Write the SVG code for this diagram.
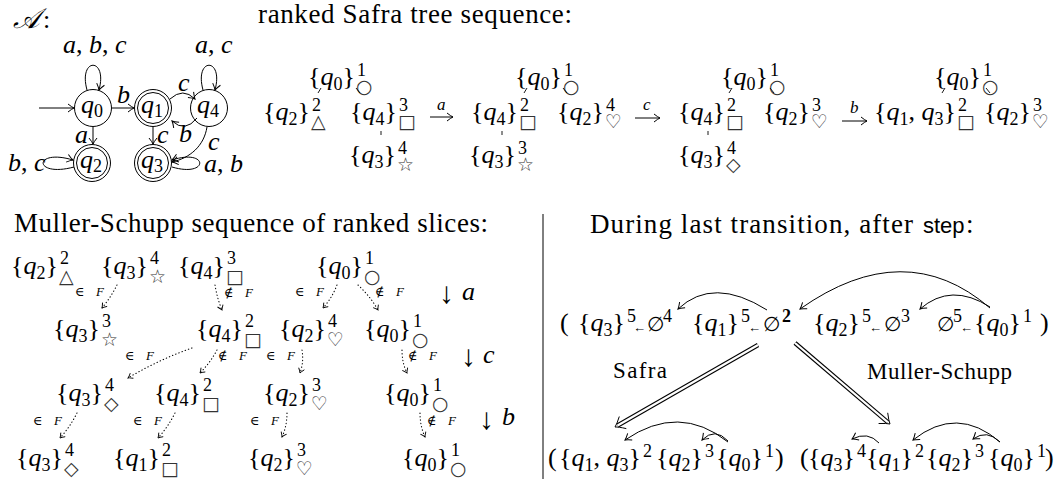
<svg xmlns="http://www.w3.org/2000/svg" width="1057" height="479" viewBox="0 0 1057 479">
<defs>
<style>
text{fill:#000}
.m{font-family:Liberation Serif,DejaVu Serif,serif;font-size:26px}
.e{text-anchor:end}
.i{font-style:italic}
.sb{font-size:18px}
.sp{font-family:Liberation Serif,DejaVu Serif,serif;font-size:18px}
.sy{font-family:DejaVu Sans,sans-serif;font-size:19px;fill:#333}
.lb{font-family:Liberation Serif,DejaVu Serif,serif;font-size:13px}
.sm{font-family:Liberation Serif,DejaVu Serif,serif;font-size:17px;font-style:italic}
.tt{font-family:Liberation Serif,DejaVu Serif,serif;font-size:27px}
.sf{font-family:Liberation Sans,DejaVu Sans,sans-serif;font-size:22px}
.la{font-family:Liberation Serif,DejaVu Serif,serif;font-size:20px}
.ar{font-family:Liberation Serif,DejaVu Serif,serif;font-size:13px}
.lbl{font-family:Liberation Serif,DejaVu Serif,serif;font-size:23px}
.dn{font-family:Liberation Serif,DejaVu Serif,serif;font-size:30px}
.ln{fill:none;stroke:#000;stroke-width:1}
.st{fill:none;stroke:#000;stroke-width:1}
.dot{fill:none;stroke:#000;stroke-width:1.1;stroke-dasharray:0.4 3;stroke-linecap:round}
.tk{fill:none;stroke:#000;stroke-width:0.9}
.dbo{fill:none;stroke:#000;stroke-width:4.4}
.dbi{fill:none;stroke:#fff;stroke-width:2.2}
</style>
<marker id="ah" viewBox="-8 -5 9 10" refX="0" refY="0" markerWidth="9" markerHeight="10" markerUnits="userSpaceOnUse" orient="auto"><path d="M-6,-4 Q-2,-0.8 0,0 Q-2,0.8 -6,4" fill="none" stroke="#000" stroke-width="1"/></marker>
<marker id="ahs" viewBox="-6 -4 7 8" refX="0" refY="0" markerWidth="7" markerHeight="8" markerUnits="userSpaceOnUse" orient="auto"><path d="M-4.5,-3 Q-1.5,-0.6 0,0 Q-1.5,0.6 -4.5,3" fill="none" stroke="#000" stroke-width="0.9"/></marker>
</defs>
<rect width="1057" height="479" fill="#fff"/>

<!-- Titles -->
<text class="m i" x="13" y="28" style="font-size:28px">𝒜</text><text class="m" x="43" y="28">:</text>
<text class="tt" x="258" y="23" textLength="314">ranked Safra tree sequence:</text>
<text class="tt" x="14" y="232" textLength="474">Muller-Schupp sequence of ranked slices:</text>
<text class="tt" x="590" y="233" textLength="323">During last transition, after</text><text class="sf" x="923" y="233">step</text><text class="tt" x="966" y="233">:</text>
<line x1="543" y1="214" x2="543" y2="479" stroke="#000" stroke-width="1"/>

<!-- Automaton nodes -->
<g id="q0"><circle cx="93" cy="108" r="18.5" class="st"/><text class="m" x="81" y="113"><tspan class="i">q</tspan><tspan class="sb" dy="4">0</tspan></text></g>
<g id="q1"><circle cx="153" cy="108" r="18.5" class="st"/><circle cx="153" cy="108" r="15.5" class="st"/><text class="m" x="141" y="113"><tspan class="i">q</tspan><tspan class="sb" dy="4">1</tspan></text></g>
<g id="q4"><circle cx="209" cy="108" r="18.5" class="st"/><text class="m" x="197" y="113"><tspan class="i">q</tspan><tspan class="sb" dy="4">4</tspan></text></g>
<g id="q2"><circle cx="92" cy="163" r="18.5" class="st"/><circle cx="92" cy="163" r="15.5" class="st"/><text class="m" x="80" y="168"><tspan class="i">q</tspan><tspan class="sb" dy="4">2</tspan></text></g>
<g id="q3"><circle cx="153" cy="163" r="18.5" class="st"/><circle cx="153" cy="163" r="15.5" class="st"/><text class="m" x="141" y="168"><tspan class="i">q</tspan><tspan class="sb" dy="4">3</tspan></text></g>

<!-- Automaton connectors -->
<g id="automaton-edges">
<path class="ln" d="M39,108 L74,108" marker-end="url(#ah)"/>
<path class="ln" d="M112,108 L134,108" marker-end="url(#ah)"/>
<path class="ln" d="M87,90 C78,57 108,57 99,90" marker-end="url(#ah)"/>
<path class="ln" d="M203,90 C194,57 224,57 215,90" marker-end="url(#ah)"/>
<path class="ln" d="M170,99 Q183,87 195,99" marker-end="url(#ah)"/>
<path class="ln" d="M197,118 Q185,133 172,121" marker-end="url(#ah)"/>
<path class="ln" d="M93,127 L93,144" marker-end="url(#ah)"/>
<path class="ln" d="M153,127 L153,144" marker-end="url(#ah)"/>
<path class="ln" d="M207,127 C204,146 190,158 172,162" marker-end="url(#ah)"/>
<path class="ln" d="M74,167 C33,178 33,148 73,160" marker-end="url(#ah)"/>
<path class="ln" d="M172,167 C209,178 209,148 172,160" marker-end="url(#ah)"/>
<text class="m i" x="63" y="53">a<tspan style="font-style:normal">,</tspan> b<tspan style="font-style:normal">,</tspan> c</text>
<text class="m i" x="195" y="53">a<tspan style="font-style:normal">,</tspan> c</text>
<text class="m i" x="117" y="103">b</text>
<text class="m i" x="178" y="91">c</text>
<text class="m i" x="179" y="142">b</text>
<text class="m i" x="75" y="143">a</text>
<text class="m i" x="157" y="143">c</text>
<text class="m i" x="208" y="150">c</text>
<text class="m i" x="8" y="171">b<tspan style="font-style:normal">,</tspan> c</text>
<text class="m i" x="204" y="172">a<tspan style="font-style:normal">,</tspan> b</text>
</g>

<!-- Safra tree nodes -->
<g id="t1-q0"><text class="m e" x="355" y="85">{<tspan class="i">q</tspan><tspan class="sb" dy="5">0</tspan><tspan dy="-5">}</tspan></text><text class="sp" x="357" y="76">1</text><text class="sy" x="356" y="93">○</text></g>
<g id="t1-q2"><text class="m e" x="310" y="120">{<tspan class="i">q</tspan><tspan class="sb" dy="5">2</tspan><tspan dy="-5">}</tspan></text><text class="sp" x="312" y="111">2</text><text class="sy" x="311" y="128">△</text></g>
<g id="t1-q4"><text class="m e" x="397" y="120">{<tspan class="i">q</tspan><tspan class="sb" dy="5">4</tspan><tspan dy="-5">}</tspan></text><text class="sp" x="399" y="111">3</text><text class="sy" x="398" y="128">□</text></g>
<g id="t1-q3"><text class="m e" x="396" y="163">{<tspan class="i">q</tspan><tspan class="sb" dy="5">3</tspan><tspan dy="-5">}</tspan></text><text class="sp" x="398" y="154">4</text><text class="sy" x="397" y="171">☆</text></g>
<g id="t2-q0"><text class="m e" x="562" y="85">{<tspan class="i">q</tspan><tspan class="sb" dy="5">0</tspan><tspan dy="-5">}</tspan></text><text class="sp" x="564" y="76">1</text><text class="sy" x="563" y="93">○</text></g>
<g id="t2-q4"><text class="m e" x="518" y="120">{<tspan class="i">q</tspan><tspan class="sb" dy="5">4</tspan><tspan dy="-5">}</tspan></text><text class="sp" x="520" y="111">2</text><text class="sy" x="519" y="128">□</text></g>
<g id="t2-q2"><text class="m e" x="604" y="120">{<tspan class="i">q</tspan><tspan class="sb" dy="5">2</tspan><tspan dy="-5">}</tspan></text><text class="sp" x="606" y="111">4</text><text class="sy" x="605" y="128">♡</text></g>
<g id="t2-q3"><text class="m e" x="516" y="163">{<tspan class="i">q</tspan><tspan class="sb" dy="5">3</tspan><tspan dy="-5">}</tspan></text><text class="sp" x="518" y="154">3</text><text class="sy" x="517" y="171">☆</text></g>
<g id="t3-q0"><text class="m e" x="768" y="85">{<tspan class="i">q</tspan><tspan class="sb" dy="5">0</tspan><tspan dy="-5">}</tspan></text><text class="sp" x="770" y="76">1</text><text class="sy" x="769" y="93">○</text></g>
<g id="t3-q4"><text class="m e" x="725" y="120">{<tspan class="i">q</tspan><tspan class="sb" dy="5">4</tspan><tspan dy="-5">}</tspan></text><text class="sp" x="727" y="111">2</text><text class="sy" x="726" y="128">□</text></g>
<g id="t3-q2"><text class="m e" x="810" y="120">{<tspan class="i">q</tspan><tspan class="sb" dy="5">2</tspan><tspan dy="-5">}</tspan></text><text class="sp" x="812" y="111">3</text><text class="sy" x="811" y="128">♡</text></g>
<g id="t3-q3"><text class="m e" x="725" y="163">{<tspan class="i">q</tspan><tspan class="sb" dy="5">3</tspan><tspan dy="-5">}</tspan></text><text class="sp" x="727" y="154">4</text><text class="sy" x="726" y="171">◇</text></g>
<g id="t4-q0"><text class="m e" x="981" y="85">{<tspan class="i">q</tspan><tspan class="sb" dy="5">0</tspan><tspan dy="-5">}</tspan></text><text class="sp" x="983" y="76">1</text><text class="sy" x="982" y="93">○</text></g>
<g id="t4-q13"><text class="m e" x="956" y="120">{<tspan class="i">q</tspan><tspan class="sb" dy="5">1</tspan><tspan dy="-5">, </tspan><tspan class="i">q</tspan><tspan class="sb" dy="5">3</tspan><tspan dy="-5">}</tspan></text><text class="sp" x="958" y="111">2</text><text class="sy" x="957" y="128">□</text></g>
<g id="t4-q2"><text class="m e" x="1031" y="120">{<tspan class="i">q</tspan><tspan class="sb" dy="5">2</tspan><tspan dy="-5">}</tspan></text><text class="sp" x="1033" y="111">3</text><text class="sy" x="1032" y="128">♡</text></g>

<!-- Muller-Schupp nodes -->
<g id="m1-q2"><text class="m e" x="58" y="274">{<tspan class="i">q</tspan><tspan class="sb" dy="5">2</tspan><tspan dy="-5">}</tspan></text><text class="sp" x="60" y="264">2</text><text class="sy" x="59" y="283">△</text></g>
<g id="m1-q3"><text class="m e" x="148" y="274">{<tspan class="i">q</tspan><tspan class="sb" dy="5">3</tspan><tspan dy="-5">}</tspan></text><text class="sp" x="150" y="264">4</text><text class="sy" x="149" y="283">☆</text></g>
<g id="m1-q4"><text class="m e" x="225" y="274">{<tspan class="i">q</tspan><tspan class="sb" dy="5">4</tspan><tspan dy="-5">}</tspan></text><text class="sp" x="227" y="264">3</text><text class="sy" x="226" y="283">□</text></g>
<g id="m1-q0"><text class="m e" x="363" y="274">{<tspan class="i">q</tspan><tspan class="sb" dy="5">0</tspan><tspan dy="-5">}</tspan></text><text class="sp" x="365" y="264">1</text><text class="sy" x="364" y="283">○</text></g>
<g id="m2-q3"><text class="m e" x="100" y="337">{<tspan class="i">q</tspan><tspan class="sb" dy="5">3</tspan><tspan dy="-5">}</tspan></text><text class="sp" x="102" y="327">3</text><text class="sy" x="101" y="346">☆</text></g>
<g id="m2-q4"><text class="m e" x="243" y="337">{<tspan class="i">q</tspan><tspan class="sb" dy="5">4</tspan><tspan dy="-5">}</tspan></text><text class="sp" x="245" y="327">2</text><text class="sy" x="244" y="346">□</text></g>
<g id="m2-q2"><text class="m e" x="326" y="337">{<tspan class="i">q</tspan><tspan class="sb" dy="5">2</tspan><tspan dy="-5">}</tspan></text><text class="sp" x="328" y="327">4</text><text class="sy" x="327" y="346">♡</text></g>
<g id="m2-q0"><text class="m e" x="411" y="337">{<tspan class="i">q</tspan><tspan class="sb" dy="5">0</tspan><tspan dy="-5">}</tspan></text><text class="sp" x="413" y="327">1</text><text class="sy" x="412" y="346">○</text></g>
<g id="m3-q3"><text class="m e" x="103" y="401">{<tspan class="i">q</tspan><tspan class="sb" dy="5">3</tspan><tspan dy="-5">}</tspan></text><text class="sp" x="105" y="391">4</text><text class="sy" x="104" y="410">◇</text></g>
<g id="m3-q4"><text class="m e" x="201" y="401">{<tspan class="i">q</tspan><tspan class="sb" dy="5">4</tspan><tspan dy="-5">}</tspan></text><text class="sp" x="203" y="391">2</text><text class="sy" x="202" y="410">□</text></g>
<g id="m3-q2"><text class="m e" x="310" y="401">{<tspan class="i">q</tspan><tspan class="sb" dy="5">2</tspan><tspan dy="-5">}</tspan></text><text class="sp" x="312" y="391">3</text><text class="sy" x="311" y="410">♡</text></g>
<g id="m3-q0"><text class="m e" x="431" y="401">{<tspan class="i">q</tspan><tspan class="sb" dy="5">0</tspan><tspan dy="-5">}</tspan></text><text class="sp" x="433" y="391">1</text><text class="sy" x="432" y="410">○</text></g>
<g id="m4-q3"><text class="m e" x="63" y="466">{<tspan class="i">q</tspan><tspan class="sb" dy="5">3</tspan><tspan dy="-5">}</tspan></text><text class="sp" x="65" y="456">4</text><text class="sy" x="64" y="475">◇</text></g>
<g id="m4-q1"><text class="m e" x="160" y="466">{<tspan class="i">q</tspan><tspan class="sb" dy="5">1</tspan><tspan dy="-5">}</tspan></text><text class="sp" x="162" y="456">2</text><text class="sy" x="161" y="475">□</text></g>
<g id="m4-q2"><text class="m e" x="295" y="466">{<tspan class="i">q</tspan><tspan class="sb" dy="5">2</tspan><tspan dy="-5">}</tspan></text><text class="sp" x="297" y="456">3</text><text class="sy" x="296" y="475">♡</text></g>
<g id="m4-q0"><text class="m e" x="449" y="466">{<tspan class="i">q</tspan><tspan class="sb" dy="5">0</tspan><tspan dy="-5">}</tspan></text><text class="sp" x="451" y="456">1</text><text class="sy" x="450" y="475">○</text></g>
<g id="ms-steps">
<text class="dn" x="439" y="303">↓</text><text class="m i" x="462" y="300">a</text>
<text class="dn" x="461" y="366">↓</text><text class="m i" x="483" y="363">c</text>
<text class="dn" x="479" y="429">↓</text><text class="m i" x="502" y="425">b</text>
</g>

<!-- Right panel -->
<g id="r-top">
<text class="m" x="560" y="331">(</text>
<g id="r-top-1"><text class="m e" x="625" y="331">{<tspan class="i">q</tspan><tspan class="sb" dy="5">3</tspan><tspan dy="-5">}</tspan></text><text class="sp" x="627" y="322">5</text><text class="ar" x="633" y="332">←</text><text class="la" x="647" y="331">∅</text><text class="sp" x="663" y="322">4</text></g>
<g id="r-top-2"><text class="m e" x="739" y="331">{<tspan class="i">q</tspan><tspan class="sb" dy="5">1</tspan><tspan dy="-5">}</tspan></text><text class="sp" x="741" y="322">5</text><text class="ar" x="748" y="332">←</text><text class="la" x="763" y="331">∅</text><text class="sp" x="782" y="322" font-weight="bold">2</text></g>
<g id="r-top-3"><text class="m e" x="860" y="331">{<tspan class="i">q</tspan><tspan class="sb" dy="5">2</tspan><tspan dy="-5">}</tspan></text><text class="sp" x="862" y="322">5</text><text class="ar" x="869" y="332">←</text><text class="la" x="884" y="331">∅</text><text class="sp" x="901" y="322">3</text></g>
<g id="r-top-4"><text class="la" x="937" y="331">∅</text><text class="sp" x="953" y="322">5</text><text class="ar" x="960" y="332">←</text><text class="m e" x="1021" y="331">{<tspan class="i">q</tspan><tspan class="sb" dy="5">0</tspan><tspan dy="-5">}</tspan></text><text class="sp" x="1023" y="322">1</text></g>
<text class="m" x="1040" y="331">)</text>
</g>
<g id="r-safra">
<text class="m" x="548" y="466">(</text>
<text class="m e" x="641" y="466">{<tspan class="i">q</tspan><tspan class="sb" dy="5">1</tspan><tspan dy="-5">, </tspan><tspan class="i">q</tspan><tspan class="sb" dy="5">3</tspan><tspan dy="-5">}</tspan></text><text class="sp" x="643" y="457">2</text>
<text class="m e" x="703" y="466">{<tspan class="i">q</tspan><tspan class="sb" dy="5">2</tspan><tspan dy="-5">}</tspan></text><text class="sp" x="705" y="457">3</text>
<text class="m e" x="763" y="466">{<tspan class="i">q</tspan><tspan class="sb" dy="5">0</tspan><tspan dy="-5">}</tspan></text><text class="sp" x="765" y="457">1</text>
<text class="m" x="775" y="466">)</text>
</g>
<g id="r-ms">
<text class="m" x="800" y="466">(</text>
<text class="m e" x="855" y="466">{<tspan class="i">q</tspan><tspan class="sb" dy="5">3</tspan><tspan dy="-5">}</tspan></text><text class="sp" x="857" y="457">4</text>
<text class="m e" x="913" y="466">{<tspan class="i">q</tspan><tspan class="sb" dy="5">1</tspan><tspan dy="-5">}</tspan></text><text class="sp" x="915" y="457">2</text>
<text class="m e" x="973" y="466">{<tspan class="i">q</tspan><tspan class="sb" dy="5">2</tspan><tspan dy="-5">}</tspan></text><text class="sp" x="975" y="457">3</text>
<text class="m e" x="1035" y="466">{<tspan class="i">q</tspan><tspan class="sb" dy="5">0</tspan><tspan dy="-5">}</tspan></text><text class="sp" x="1037" y="457">1</text>
<text class="m" x="1045" y="466">)</text>
</g>
<text class="lbl" x="613" y="378" textLength="54">Safra</text>
<text class="lbl" x="867" y="379" textLength="145">Muller-Schupp</text>

<!-- Connectors -->
<g id="connectors">
<g id="safra-steps">
<path class="ln" d="M430,117 L453,117" marker-end="url(#ah)"/><text class="sm" x="437" y="110">a</text>
<path class="ln" d="M635,118 L660,118" marker-end="url(#ah)"/><text class="sm" x="643" y="110">c</text>
<path class="ln" d="M842,121 L867,121" marker-end="url(#ah)"/><text class="sm" x="850" y="113">b</text>
</g>
<g id="tree-edges">
<path class="tk" d="M321,88 L318,93 M356,88 L360,93 M381,131 L381,135"/>
<path class="tk" d="M527,88 L524,93 M563,88 L567,93 M502,131 L502,135"/>
<path class="tk" d="M732,88 L729,93 M770,88 L774,93 M708,131 L708,135"/>
<path class="tk" d="M945,88 L942,93 M986,88 L990,93"/>
</g>
<g id="ms-edges">
<path class="dot" d="M117,285 Q111,297 102,308" marker-end="url(#ahs)"/>
<path class="dot" d="M215,285 Q217,298 222,310" marker-end="url(#ahs)"/>
<path class="dot" d="M337,285 Q332,298 323,308" marker-end="url(#ahs)"/>
<path class="dot" d="M358,285 Q370,296 378,310" marker-end="url(#ahs)"/>
<path class="dot" d="M192,348 Q158,360 128,378" marker-end="url(#ahs)"/>
<path class="dot" d="M217,350 Q210,363 200,373" marker-end="url(#ahs)"/>
<path class="dot" d="M302,350 Q304,362 300,373" marker-end="url(#ahs)"/>
<path class="dot" d="M402,350 Q402,363 407,373" marker-end="url(#ahs)"/>
<path class="dot" d="M77,413 Q70,427 60,438" marker-end="url(#ahs)"/>
<path class="dot" d="M175,413 Q168,427 158,438" marker-end="url(#ahs)"/>
<path class="dot" d="M287,413 Q287,426 282,437" marker-end="url(#ahs)"/>
<path class="dot" d="M420,413 Q420,426 425,437" marker-end="url(#ahs)"/>
<text class="lb" x="75" y="296" textLength="29">∈ <tspan class="i">F</tspan></text>
<text class="lb" x="224" y="297" textLength="29">∉ <tspan class="i">F</tspan></text>
<text class="lb" x="295" y="296" textLength="29">∈ <tspan class="i">F</tspan></text>
<text class="lb" x="375" y="296" textLength="29">∉ <tspan class="i">F</tspan></text>
<text class="lb" x="125" y="360" textLength="29">∈ <tspan class="i">F</tspan></text>
<text class="lb" x="218" y="360" textLength="29">∉ <tspan class="i">F</tspan></text>
<text class="lb" x="266" y="360" textLength="29">∈ <tspan class="i">F</tspan></text>
<text class="lb" x="408" y="360" textLength="29">∉ <tspan class="i">F</tspan></text>
<text class="lb" x="33" y="425" textLength="29">∈ <tspan class="i">F</tspan></text>
<text class="lb" x="133" y="425" textLength="29">∈ <tspan class="i">F</tspan></text>
<text class="lb" x="250" y="425" textLength="29">∈ <tspan class="i">F</tspan></text>
<text class="lb" x="427" y="425" textLength="29">∉ <tspan class="i">F</tspan></text>
</g>
<g id="step-arcs">
<path class="ln" d="M767,310 Q713,276 678,309" marker-end="url(#ah)"/>
<path class="ln" d="M990,308 Q905,235 800,309" marker-end="url(#ah)"/>
<path class="ln" d="M990,307 Q951,282 920,309" marker-end="url(#ah)"/>
<path class="ln" d="M728,442 Q679,403 625,440" marker-end="url(#ah)"/>
<path class="ln" d="M728,441 Q715,427 702,440" marker-end="url(#ah)"/>
<path class="ln" d="M879,443 Q868,431 852,439" marker-end="url(#ah)"/>
<path class="ln" d="M1000,442 Q957,405 913,440" marker-end="url(#ah)"/>
<path class="ln" d="M1000,442 Q987,429 973,439" marker-end="url(#ah)"/>
</g>
<g id="double-arrows">
<path class="dbo" d="M758,345 L617.6,425.5"/><path class="dbi" d="M758,345 L617.6,425.5"/>
<path class="st" d="M626.3,428.6 Q618.4,426.8 615,427 Q616.9,424.2 619.3,416.5"/>
<path class="dbo" d="M795,343 L887.7,422.1"/><path class="dbi" d="M795,343 L887.7,422.1"/>
<path class="st" d="M878.6,423.5 Q886.75,423.2 890,424 Q888.7,420.9 887.7,412.8"/>
</g>
</g>
</svg>
